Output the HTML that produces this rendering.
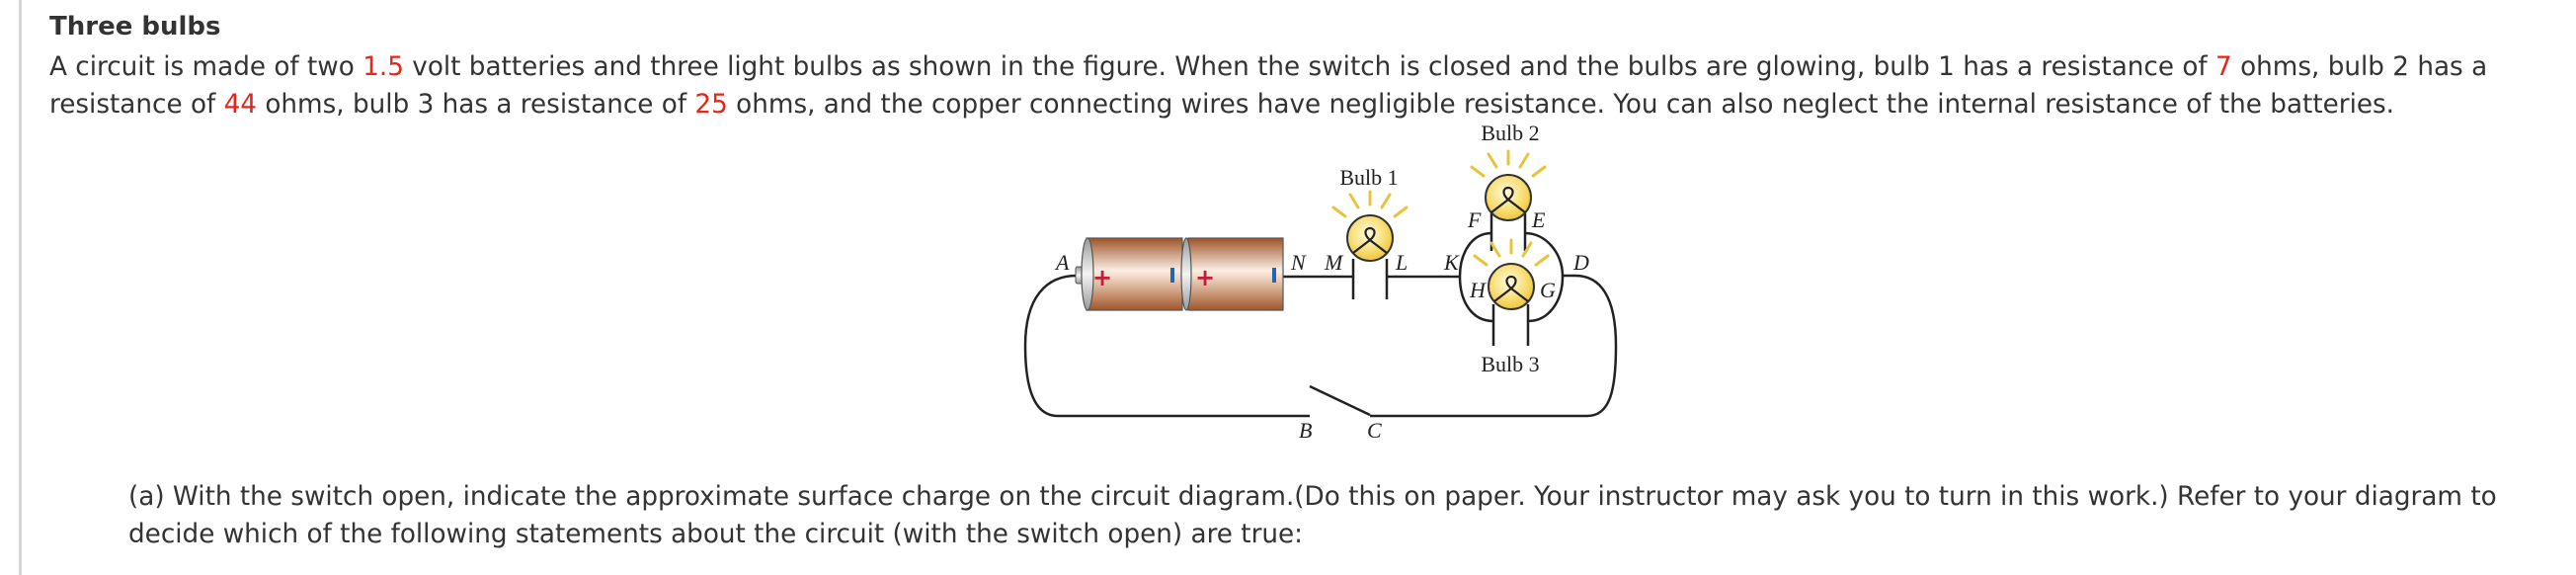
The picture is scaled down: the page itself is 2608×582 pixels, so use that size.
<!DOCTYPE html>
<html><head><meta charset="utf-8"><style>
html,body{margin:0;padding:0;background:#fff;}
body{width:2608px;height:582px;position:relative;overflow:hidden;font-family:"DejaVu Sans","Liberation Sans",sans-serif;color:#333;}
.bar{position:absolute;left:19px;top:0;width:3px;height:582px;background:#d4d4d4;}
.t{position:absolute;white-space:nowrap;font-size:26.25px;}
.r{color:#e8251c;}
svg{position:absolute;left:0;top:0;}
.lb{font-family:"Liberation Serif",serif;font-style:italic;font-size:22px;fill:#222;}
.bl{font-family:"Liberation Serif",serif;font-size:22px;fill:#222;}
</style></head><body>
<div class="bar"></div>
<div class="t" style="left:50px;top:12px;font-weight:bold;font-size:26px;">Three bulbs</div>
<div class="t" style="left:50px;top:53px;">A circuit is made of two <span class="r">1.5</span> volt batteries and three light bulbs as shown in the figure. When the switch is closed and the bulbs are glowing, bulb 1 has a resistance of <span class="r">7</span> ohms, bulb 2 has a</div>
<div class="t" style="left:50px;top:91px;">resistance of <span class="r">44</span> ohms, bulb 3 has a resistance of <span class="r">25</span> ohms, and the copper connecting wires have negligible resistance. You can also neglect the internal resistance of the batteries.</div>
<div class="t" style="left:130px;top:488px;">(a) With the switch open, indicate the approximate surface charge on the circuit diagram.(Do this on paper. Your instructor may ask you to turn in this work.) Refer to your diagram to</div>
<div class="t" style="left:130px;top:526px;">decide which of the following statements about the circuit (with the switch open) are true:</div>
<svg width="2608" height="582" viewBox="0 0 2608 582">
<defs>
<linearGradient id="cu" x1="0" y1="0" x2="0" y2="1">
<stop offset="0" stop-color="#9e5428"/><stop offset="0.45" stop-color="#fbeee4"/><stop offset="0.55" stop-color="#f0d6c2"/><stop offset="1" stop-color="#a0562a"/>
</linearGradient>
<linearGradient id="cap" x1="0" y1="0" x2="0" y2="1">
<stop offset="0" stop-color="#999"/><stop offset="0.5" stop-color="#f4f4f4"/><stop offset="1" stop-color="#999"/>
</linearGradient>
<radialGradient id="bulb" cx="0.45" cy="0.4" r="0.6">
<stop offset="0" stop-color="#fffbe6"/><stop offset="0.6" stop-color="#f8e07a"/><stop offset="1" stop-color="#efc63e"/>
</radialGradient>
<g id="b">
<circle r="23" fill="url(#bulb)" stroke="#333" stroke-width="2"/>
<path d="M-17,15 L0,2 L17,15 M0,2 C-7,-4 -5,-10 0,-10 C5,-10 7,-4 0,2" fill="none" stroke="#222" stroke-width="2.2"/>
</g>
<g id="rays" stroke="#e8c43a" stroke-width="3" stroke-linecap="round">
<line x1="0" y1="-34" x2="0" y2="-47"/>
<line x1="-12" y1="-31" x2="-20" y2="-44"/>
<line x1="12" y1="-31" x2="20" y2="-44"/>
<line x1="-25" y1="-22" x2="-37" y2="-31"/>
<line x1="25" y1="-22" x2="37" y2="-31"/>
</g>
</defs>
<g fill="none" stroke="#222" stroke-width="2.5">
<path d="M1090,279 C1060,279 1038,300 1038,350 C1038,400 1050,421 1071,421 L1326,421"/>
<path d="M1326,391 L1387,420"/>
<path d="M1387,421 L1607,421 C1630,421 1636,395 1636,350 C1636,300 1620,279 1595,279 L1582,279"/>
<path d="M1299,280 L1370,280 M1404,280 L1478,280"/>
<path d="M1370,262 L1370,303 M1404,262 L1404,303"/>
<path d="M1510,236 C1490,236 1478,256 1478,280 C1478,305 1490,325 1512,325"/>
<path d="M1544,236 C1565,236 1582,256 1582,280 C1582,305 1568,325 1547,325"/>
<path d="M1510,216 L1510,254 M1544,216 L1544,254"/>
<path d="M1512,308 L1512,350 M1547,308 L1547,350"/>
</g>
<rect x="1089" y="270" width="9" height="17" rx="2" fill="url(#cap)" stroke="#555" stroke-width="1"/>
<rect x="1100" y="241" width="97" height="73" fill="url(#cu)" stroke="#555" stroke-width="1.2"/>
<ellipse cx="1101" cy="277.5" rx="6" ry="36.5" fill="url(#cap)" stroke="#555" stroke-width="1.2"/>
<rect x="1203" y="241" width="96" height="73" fill="url(#cu)" stroke="#555" stroke-width="1.2"/>
<ellipse cx="1201" cy="277.5" rx="5" ry="36.5" fill="url(#cap)" stroke="#555" stroke-width="1.2"/>
<text x="1116" y="289" font-family="DejaVu Sans" font-weight="bold" font-size="24" fill="#c41b3a" text-anchor="middle">+</text>
<text x="1220" y="289" font-family="DejaVu Sans" font-weight="bold" font-size="24" fill="#c41b3a" text-anchor="middle">+</text>
<rect x="1185" y="271" width="4" height="15" fill="#2166b5"/>
<rect x="1288" y="271" width="4" height="15" fill="#2166b5"/>
<use href="#rays" x="1387" y="241"/><use href="#b" x="1387" y="241"/>
<use href="#rays" x="1527" y="200"/><use href="#b" x="1527" y="200"/>
<use href="#rays" x="1530" y="290"/><use href="#b" x="1530" y="290"/>
<text class="bl" x="1386" y="187" text-anchor="middle">Bulb 1</text>
<text class="bl" x="1529" y="142" text-anchor="middle">Bulb 2</text>
<text class="bl" x="1529" y="376" text-anchor="middle">Bulb 3</text>
<text class="lb" x="1069" y="273">A</text>
<text class="lb" x="1307" y="273">N</text>
<text class="lb" x="1341" y="273">M</text>
<text class="lb" x="1413" y="273">L</text>
<text class="lb" x="1462" y="273">K</text>
<text class="lb" x="1593" y="273">D</text>
<text class="lb" x="1486" y="230">F</text>
<text class="lb" x="1551" y="230">E</text>
<text class="lb" x="1488" y="301">H</text>
<text class="lb" x="1559" y="301">G</text>
<text class="lb" x="1315" y="443">B</text>
<text class="lb" x="1384" y="443">C</text>
</svg>
</body></html>
